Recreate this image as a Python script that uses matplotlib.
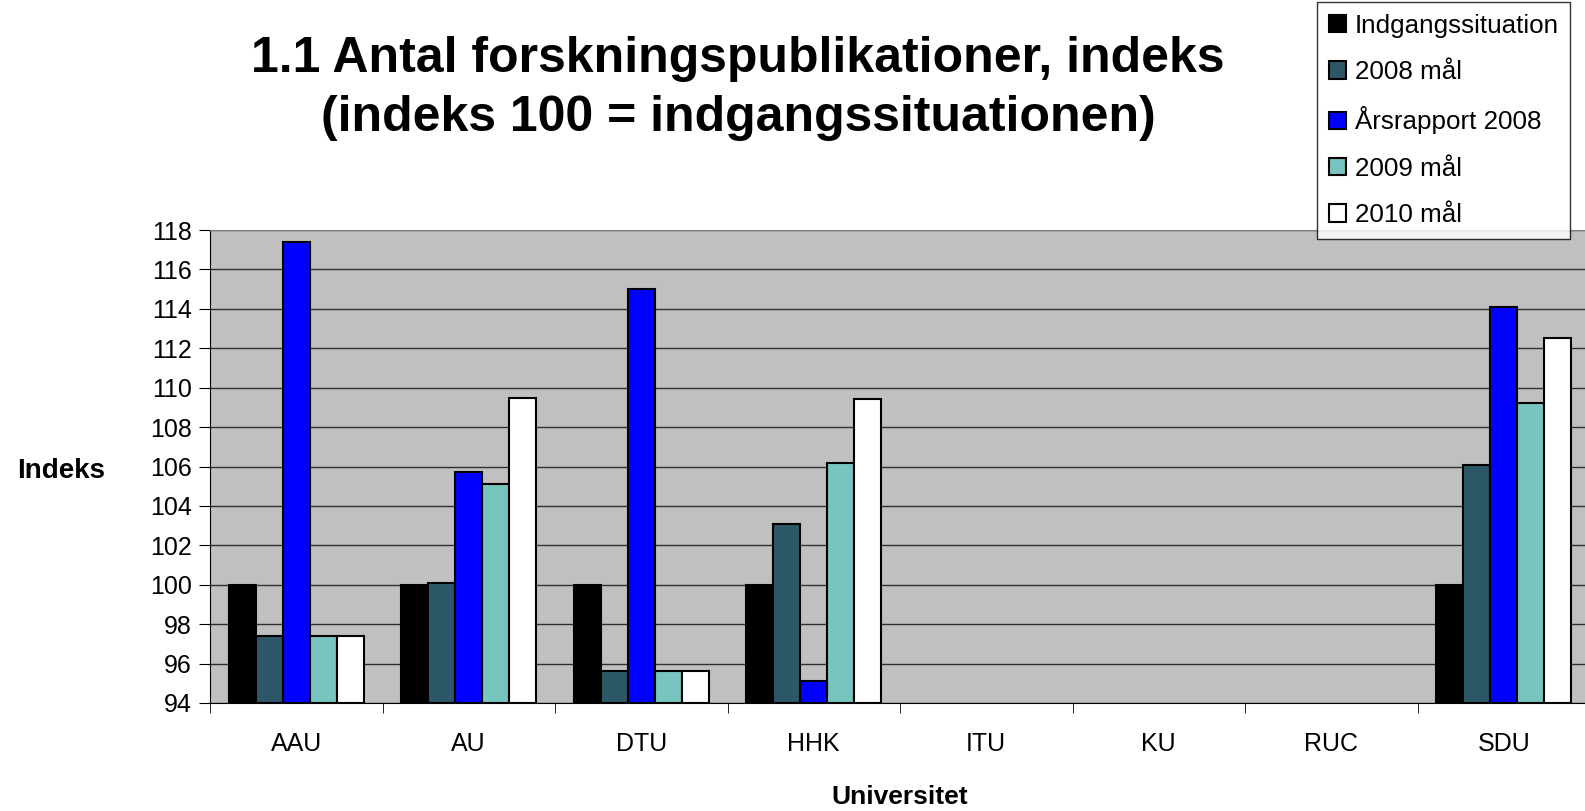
import matplotlib.pyplot as plt
import numpy as np
from matplotlib import font_manager

universities = ['AAU', 'AU', 'DTU', 'HHK', 'ITU', 'KU', 'RUC', 'SDU']
series_names = ['Indgangssituation', '2008 mål', 'Årsrapport 2008', '2009 mål', '2010 mål']

# nan = no data for that university
indgang = [100, 100, 100, 100, np.nan, np.nan, np.nan, 100]
maal_2008 = [97.4, 100.1, 95.6, 103.1, np.nan, np.nan, np.nan, 106.1]
aarsrapport_2008 = [117.4, 105.7, 115.0, 95.1, np.nan, np.nan, np.nan, 114.1]
maal_2009 = [97.4, 105.1, 95.6, 106.2, np.nan, np.nan, np.nan, 109.2]
maal_2010 = [97.4, 109.5, 95.6, 109.4, np.nan, np.nan, np.nan, 112.5]

colors = ['#000000', '#2D5867', '#0000FF', '#78C4BE', '#FFFFFF']

names = [f.name for f in font_manager.fontManager.ttflist]
family = 'Liberation Sans Narrow' if 'Liberation Sans Narrow' in names else 'Liberation Sans'
plt.rcParams['font.family'] = [family, 'DejaVu Sans']

fig = plt.figure(figsize=(15.85, 8.11), dpi=100)
ax = fig.add_axes([210 / 1585, 108 / 811, 1380 / 1585, 473 / 811])
ax.set_facecolor('#C0C0C0')

x = np.arange(len(universities))
width = 0.156
all_series = [indgang, maal_2008, aarsrapport_2008, maal_2009, maal_2010]
ymin = 94
for i, vals in enumerate(all_series):
    vals = np.array(vals)
    ax.bar(x + (i - 2) * width, vals - ymin, bottom=ymin, width=width,
           color=colors[i], edgecolor='black', linewidth=1.5,
           label=series_names[i], zorder=3)

ax.set_ylim(94, 118)
ax.set_xlim(-0.5, len(universities) - 0.5)
ax.set_yticks(np.arange(94, 119, 2))
ax.yaxis.grid(True, color='#303030', linewidth=1.0, zorder=1)

ax.set_xticks(x)
ax.set_xticklabels(universities)
ax.set_xticks(np.arange(-0.5, len(universities), 1), minor=True)
ax.tick_params(axis='x', which='major', length=0, pad=21, labelsize=18)
ax.tick_params(axis='x', which='minor', length=7, color='black')
ax.tick_params(axis='y', length=8, labelsize=18, pad=5)

for side in ['top', 'right']:
    ax.spines[side].set_color('#808080')
ax.spines['left'].set_color('black')
ax.spines['bottom'].set_color('black')

ax.set_xlabel('Universitet', fontsize=19, fontweight='bold', labelpad=21)
fig.text(61 / 1585, 1 - 471 / 811, 'Indeks', fontsize=20, fontweight='bold',
         ha='center', va='center')

fig.text(738 / 1585, 1 - 59 / 811, '1.1 Antal forskningspublikationer, indeks',
         fontsize=36, fontweight='bold', ha='center', va='center')
fig.text(738 / 1585, 1 - 118 / 811, '(indeks 100 = indgangssituationen)',
         fontsize=36, fontweight='bold', ha='center', va='center')

leg = fig.legend(loc='upper left', bbox_to_anchor=(1317 / 1585, 1 - 2 / 811),
                 fontsize=18.7, frameon=True, fancybox=False, edgecolor='black',
                 handlelength=0.65, handleheight=0.65, handletextpad=0.35,
                 labelspacing=0.86, borderaxespad=0, borderpad=0.45)
leg.get_frame().set_linewidth(1.0)

fig.savefig('out.png', dpi=100)
